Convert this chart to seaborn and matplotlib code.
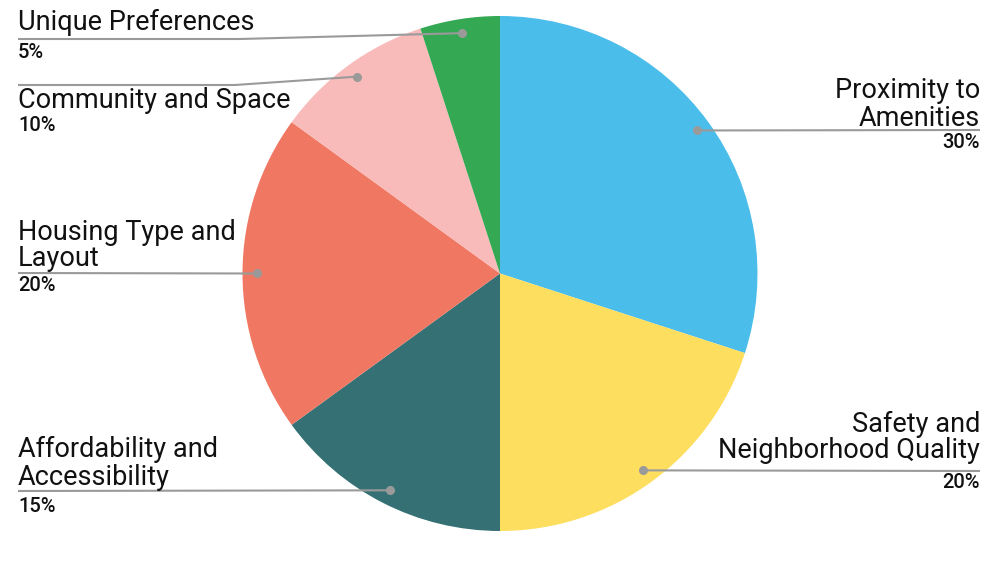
import matplotlib.pyplot as plt
import seaborn as sns
import numpy as np

# slice data, clockwise from 12 o'clock
categories = ["Proximity to Amenities", "Safety and Neighborhood Quality",
              "Affordability and Accessibility", "Housing Type and Layout",
              "Community and Space", "Unique Preferences"]
shares = [30, 20, 15, 20, 10, 5]
label_lines = [["Proximity to", "Amenities"],
               ["Safety and", "Neighborhood Quality"],
               ["Affordability and", "Accessibility"],
               ["Housing Type and", "Layout"],
               ["Community and Space"],
               ["Unique Preferences"]]
pct_labels = [f"{s}%" for s in shares]

colors = ["#4BBDEB", "#FDDE5E", "#357174", "#F07762", "#F9BABA", "#34A853"]

# label layout (pixels): side, leader y, name baselines, percent baseline, elbow
layout = [
    ("right", 130, [98, 126], 148, None),
    ("right", 471, [432, 458], 488, None),
    ("left", 491, [457, 485], 512, None),
    ("left", 273, [240, 266], 291, None),
    ("left", 85, [108], 131, 235),
    ("left", 39, [30], 58, 240),
]

sns.set_theme(style="white")
plt.rcParams["font.family"] = ["Roboto", "DejaVu Sans"]

fig = plt.figure(figsize=(10, 5.63), dpi=100)
ax = fig.add_axes([0, 0, 1, 1])

cx, cy, R = 500, 273.5, 257.5
# y axis is inverted below, so startangle=-90 is 12 o'clock and
# counterclock in data space reads clockwise on screen
wedges, _ = ax.pie(shares, colors=colors, startangle=-90, counterclock=True,
                   center=(cx, cy), radius=R, wedgeprops=dict(linewidth=0))
ax.set_xlim(0, 1000)
ax.set_ylim(563, 0)
ax.set_aspect("equal")
ax.axis("off")

line_col = "#9A9A9A"
for w, lines, pct, (side, ly, bases, pbase, elbow) in zip(wedges, label_lines, pct_labels, layout):
    mid = np.deg2rad((w.theta1 + w.theta2) / 2)
    dx = cx + 0.945 * R * np.cos(mid)
    dy = cy + 0.945 * R * np.sin(mid)
    if side == "right":
        xs, ys = [dx, 980], [dy, ly]
        tx, ha = 980, "right"
    else:
        if elbow is not None:
            xs, ys = [dx, elbow, 18], [dy, ly, ly]
        else:
            xs, ys = [dx, 18], [dy, ly]
        tx, ha = 18, "left"
    ax.plot(xs, ys, color=line_col, lw=1.5, solid_capstyle="butt", zorder=3)
    ax.plot([dx], [dy], "o", color=line_col, ms=5.5, zorder=4)
    for txt, b in zip(lines, bases):
        ax.text(tx, b, txt, ha=ha, va="baseline", fontsize=19.5, color="#111111")
    ax.text(tx, pbase, pct, ha=ha, va="baseline", fontsize=14.5, fontweight="medium", color="#111111")

fig.savefig("out.png", dpi=100, facecolor="white")
